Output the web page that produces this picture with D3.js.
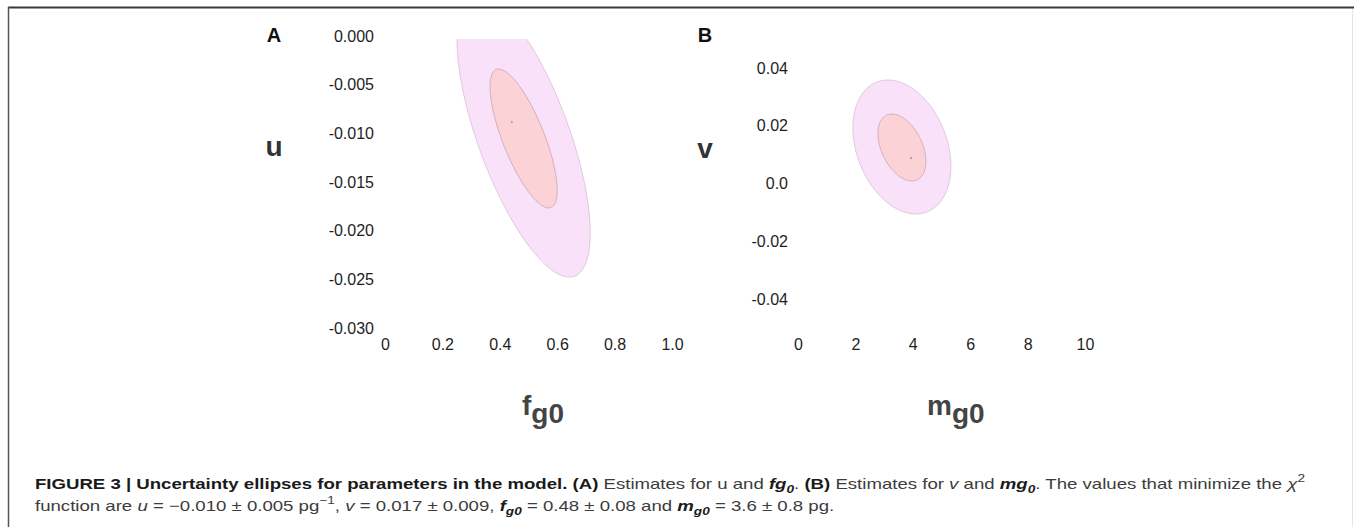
<!DOCTYPE html>
<html>
<head>
<meta charset="utf-8">
<script src="https://cdn.jsdelivr.net/npm/d3@7"></script>
<style>
  body { margin: 0; background: #fff; }
  svg { display: block; }
  text { font-family: "Liberation Sans", Arial, Helvetica, sans-serif; }
</style>
</head>
<body>
<script>
// panel A: u against fg0
const aXTicks = [0, 0.2, 0.4, 0.6, 0.8, 1.0]
const aYTicks = [0, -0.005, -0.010, -0.015, -0.020, -0.025, -0.030]
// ellipse = [centre x, centre y, half width x, half width y, correlation]
const aOuter = [0.483, -0.01033, 0.232, 0.01444, -0.687]
const aInner = [0.483, -0.01053, 0.117, 0.00714, -0.746]
const aBest = [0.442, -0.00884]

// panel B: v against mg0
const bXTicks = [0, 2, 4, 6, 8, 10]
const bYTicks = [0.04, 0.02, 0, -0.02, -0.04]
const bOuter = [3.62, 0.01264, 1.707, 0.0232, -0.286]
const bInner = [3.62, 0.01247, 0.836, 0.0116, -0.417]
const bBest = [3.94, 0.00883]

const width = 1354
const height = 527

const svg = d3.select('body').append('svg')
  .attr('width', width)
  .attr('height', height)

// page frame
svg.append('line').attr('x1', 8).attr('x2', width).attr('y1', 7.5).attr('y2', 7.5)
  .attr('stroke', '#3a3a3a').attr('stroke-width', 2)
svg.append('line').attr('x1', 8.5).attr('x2', 8.5).attr('y1', 7).attr('y2', height)
  .attr('stroke', '#555').attr('stroke-width', 1.5)
svg.append('line').attr('x1', width - 1.5).attr('x2', width - 1.5).attr('y1', 9).attr('y2', height)
  .attr('stroke', '#e4e4e4').attr('stroke-width', 1)

function ellipsePath (e, x, y) {
  const [cx, cy, sx, sy, rho] = e
  const k = Math.sqrt(1 - rho * rho)
  const t = d3.range(0, 2 * Math.PI, Math.PI / 90)
  const line = d3.line()
    .x(a => x(cx + sx * Math.cos(a)))
    .y(a => y(cy + sy * (rho * Math.cos(a) + k * Math.sin(a))))
    .curve(d3.curveLinearClosed)
  return line(t)
}

function drawPanel (opt) {
  const g = svg.append('g')
  const x = d3.scaleLinear().domain(opt.xDomain).range(opt.xRange)
  const y = d3.scaleLinear().domain(opt.yDomain).range(opt.yRange)

  const clipId = 'clip-' + opt.letter
  svg.append('clipPath').attr('id', clipId)
    .append('rect')
    .attr('x', opt.xRange[0] - 120).attr('width', 400)
    .attr('y', opt.clipTop).attr('height', 400)

  const marks = g.append('g').attr('clip-path', 'url(#' + clipId + ')')
  marks.append('path')
    .attr('d', ellipsePath(opt.outer, x, y))
    .attr('fill', '#f9e2f9')
    .attr('stroke', '#d9bcd6')
    .attr('stroke-width', 0.8)
  marks.append('path')
    .attr('d', ellipsePath(opt.inner, x, y))
    .attr('fill', '#fbd2d6')
    .attr('stroke', '#c9a2ad')
    .attr('stroke-width', 0.8)
  marks.append('circle')
    .attr('cx', x(opt.best[0])).attr('cy', y(opt.best[1]))
    .attr('r', 0.9).attr('fill', '#b07878')

  const yAxis = g.append('g')
    .attr('transform', 'translate(' + opt.yAxisX + ',0)')
    .call(d3.axisLeft(y).tickValues(opt.yTicks).tickFormat(opt.yFormat).tickSize(0).tickPadding(0))
  const xAxis = g.append('g')
    .attr('transform', 'translate(0,' + opt.xAxisY + ')')
    .call(d3.axisBottom(x).tickValues(opt.xTicks).tickFormat(opt.xFormat).tickSize(0).tickPadding(0))
  ;[yAxis, xAxis].forEach(ax => {
    ax.select('.domain').remove()
    ax.selectAll('text').attr('font-size', 16).attr('fill', '#1e1e1e')
      .attr('font-family', '"Liberation Sans", Arial, sans-serif')
  })

  g.append('text').attr('x', opt.letterX).attr('y', 42)
    .attr('text-anchor', 'middle').attr('font-size', 20).attr('font-weight', 'bold')
    .attr('fill', '#111').text(opt.letter)
  g.append('text').attr('x', opt.letterX).attr('y', opt.yTitleY)
    .attr('text-anchor', 'middle').attr('font-size', 28).attr('font-weight', 'bold')
    .attr('fill', '#333').text(opt.yTitle)

  const xt = g.append('text').attr('x', opt.xTitleX).attr('y', 415)
    .attr('font-size', 28).attr('font-weight', 'bold').attr('fill', '#444')
  xt.append('tspan').text(opt.xTitle[0])
  xt.append('tspan').attr('dy', 8).text(opt.xTitle[1])
}

drawPanel({
  letter: 'A', letterX: 274, yTitle: 'u', yTitleY: 156,
  xTitle: ['f', 'g0'], xTitleX: 522,
  xDomain: [0, 1], xRange: [385, 672],
  yDomain: [0, -0.030], yRange: [36, 328],
  xTicks: aXTicks, yTicks: aYTicks,
  xFormat: d => d === 0 ? '0' : d.toFixed(1),
  yFormat: d => d.toFixed(3),
  yAxisX: 374, xAxisY: 338.5, clipTop: 39,
  outer: aOuter, inner: aInner, best: aBest
})

drawPanel({
  letter: 'B', letterX: 705, yTitle: 'v', yTitleY: 158,
  xTitle: ['m', 'g0'], xTitleX: 927,
  xDomain: [0, 10], xRange: [798, 1085],
  yDomain: [0.04, -0.04], yRange: [68, 299],
  xTicks: bXTicks, yTicks: bYTicks,
  xFormat: d => String(d),
  yFormat: d => d === 0 ? '0.0' : d.toFixed(2),
  yAxisX: 788, xAxisY: 338.5, clipTop: 0,
  outer: bOuter, inner: bInner, best: bBest
})

// caption
const captionLines = [
  [
    { t: 'FIGURE 3 | Uncertainty ellipses for parameters in the model. (A)', b: 1 },
    { t: ' Estimates for u and ' },
    { t: 'fg', b: 1, i: 1 }, { t: '0', b: 1, i: 1, sub: 1 },
    { t: '. ' }, { t: '(B)', b: 1 },
    { t: ' Estimates for ' }, { t: 'v', i: 1 }, { t: ' and ' },
    { t: 'mg', b: 1, i: 1 }, { t: '0', b: 1, i: 1, sub: 1 },
    { t: '. The values that minimize the ' }, { t: 'χ', i: 1 }, { t: '2', sup: 1 }
  ],
  [
    { t: 'function are ' }, { t: 'u', i: 1 }, { t: ' = −0.010 ± 0.005 pg' }, { t: '−1', sup: 1 },
    { t: ', ' }, { t: 'v', i: 1 }, { t: ' = 0.017 ± 0.009, ' },
    { t: 'f', b: 1, i: 1 }, { t: 'g0', b: 1, i: 1, sub: 1 },
    { t: ' = 0.48 ± 0.08 and ' },
    { t: 'm', b: 1, i: 1 }, { t: 'g0', b: 1, i: 1, sub: 1 },
    { t: ' = 3.6 ± 0.8 pg.' }
  ]
]
const captionBaselines = [489, 511]

const cap = svg.append('g').attr('class', 'caption')
captionLines.forEach((parts, li) => {
  const text = cap.append('text').attr('x', 0).attr('y', captionBaselines[li])
    .attr('font-size', 15).attr('fill', '#3c3c3c')
  let shift = 0
  parts.forEach(p => {
    const ts = text.append('tspan').text(p.t)
    if (p.b) {
      ts.attr('font-weight', 'bold').attr('fill', '#1a1a1a')
        .attr('font-family', '"Liberation Sans Narrow", "Liberation Sans", Arial, sans-serif')
    }
    if (p.i) ts.attr('font-style', 'italic')
    const want = p.sub ? 4 : p.sup ? -7 : 0
    if (want !== shift) ts.attr('dy', want - shift)
    shift = want
    if (p.sub || p.sup) ts.attr('font-size', 11)
  })
})
// fit the first line to the width of the original
const natural = cap.select('text').node().getComputedTextLength()
const squeeze = 1271 / natural
cap.attr('transform', 'translate(35,0) scale(' + squeeze + ',1)')
</script>
</body>
</html>
